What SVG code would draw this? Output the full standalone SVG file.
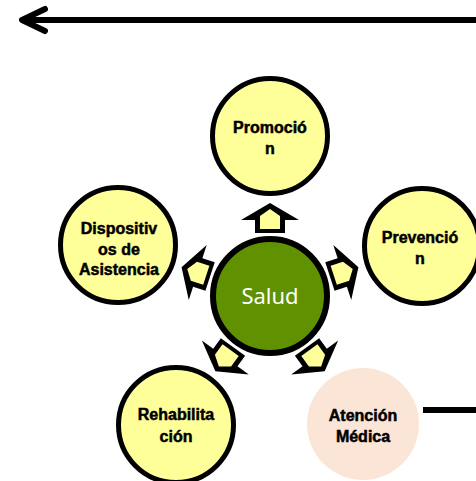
<svg xmlns="http://www.w3.org/2000/svg" width="476" height="481" viewBox="0 0 476 481">
<style>
.node{fill:#ffff99;stroke:#000;stroke-width:5}
.lbl{font-family:"Liberation Sans",Arial,sans-serif;font-weight:bold;font-size:16px;fill:#000;stroke:#000;stroke-width:0.5;text-anchor:middle}
.line{stroke:#000;stroke-width:6;fill:none}
.ah{fill:#000}
.ai{fill:#ffff99}
</style>
<defs>
<g id="arr">
<polygon class="ah" points="270,203 241,220 255,220 255,233 285,233 285,220 299,220"/>
<polygon class="ai" points="270,209 260,216 260,229 280,229 280,216"/>
</g>
</defs>
<rect width="476" height="481" fill="#fff"/>
<g id="connectors">
<line class="line" x1="22" y1="20" x2="476" y2="20"/>
<polyline points="45,9 22,20 45,31" fill="none" stroke="#000" stroke-width="6" stroke-linecap="round" stroke-linejoin="round"/>
<line class="line" x1="423" y1="410" x2="476" y2="410"/>
</g>
<g id="promocion">
<circle class="node" cx="270" cy="136" r="57.5"/>
<text class="lbl" x="270" y="133">Promoció</text>
<text class="lbl" x="270" y="154">n</text>
</g>
<g id="prevencion">
<circle class="node" cx="422" cy="246" r="57.5"/>
<text class="lbl" x="420" y="243">Prevenció</text>
<text class="lbl" x="420" y="264">n</text>
</g>
<g id="dispositivos">
<circle class="node" cx="118" cy="245" r="57.5"/>
<text class="lbl" x="119" y="234">Dispositiv</text>
<text class="lbl" x="119" y="255">os de</text>
<text class="lbl" x="119" y="275">Asistencia</text>
</g>
<g id="rehabilitacion">
<circle class="node" cx="176" cy="425" r="57.5"/>
<text class="lbl" x="176" y="420">Rehabilita</text>
<text class="lbl" x="176" y="442">ción</text>
</g>
<g id="atencion">
<circle cx="363" cy="424" r="56" fill="#fbe5d6"/>
<text class="lbl" x="363" y="421">Atención</text>
<text class="lbl" x="363" y="442">Médica</text>
</g>
<g id="salud">
<circle cx="270" cy="296" r="57" fill="#5f9100" stroke="#000" stroke-width="6"/>
<text x="270" y="304" font-family="'Noto Sans',sans-serif" font-size="22" fill="#fff" text-anchor="middle">Salud</text>
</g>
<g id="arrows">
<use href="#arr"/>
<use href="#arr" transform="rotate(72 270 296)"/>
<use href="#arr" transform="rotate(144 270 296)"/>
<use href="#arr" transform="rotate(216 270 296)"/>
<use href="#arr" transform="rotate(288 270 296)"/>
</g>
</svg>
